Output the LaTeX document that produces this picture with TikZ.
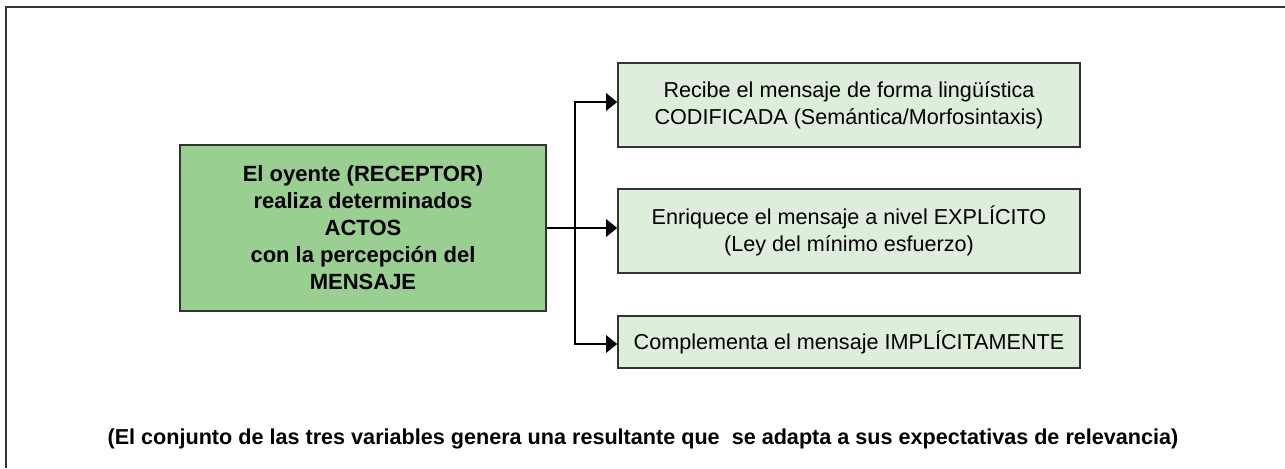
\documentclass[tikz,border=0pt]{standalone}
\usepackage{fontspec}
\setmainfont{Liberation Sans}
\usetikzlibrary{arrows.meta}
\definecolor{actgreen}{RGB}{153,207,145}
\definecolor{palegreen}{RGB}{221,238,218}
\definecolor{framegray}{RGB}{50,50,50}
\tikzset{actbox/.style={draw=framegray, fill=actgreen, line width=0.8pt, align=center, inner sep=0pt,
           minimum width=183pt, minimum height=83pt, font=\bfseries\fontsize{11}{13.5}\selectfont},
         varbox/.style={draw=framegray, fill=palegreen, line width=0.8pt, align=center, inner sep=0pt,
           minimum width=231pt, minimum height=42pt, font=\fontsize{10.8}{13.5}\selectfont},
         flow/.style={black, line width=1.4pt},
         tip/.style={-{Triangle[length=5.5pt,width=8.5pt]}}}

\begin{document}
\begin{tikzpicture}[x=0.5pt,y=-0.5pt]
   \useasboundingbox (0,0) rectangle (1285,468);
   % outer frame, only top and left edges are visible
   \draw[framegray, line width=1pt] (6,468) -- (6,7) -- (1285,7);
   % receptor
   \node[actbox] (oyente) at (363,228) {El oyente (RECEPTOR)\\ realiza determinados\\ ACTOS\\ con la percepción del\\ MENSAJE};
   % the three variables
   \node[varbox] (codif) at (849,105) {Recibe el mensaje de forma lingüística\\ CODIFICADA (Semántica/Morfosintaxis)};
   \node[varbox] (explic) at (849,231) {Enriquece el mensaje a nivel EXPLÍCITO\\ (Ley del mínimo esfuerzo)};
   \node[varbox, minimum height=26pt] (implic) at (849,342) {Complementa el mensaje IMPLÍCITAMENTE};
   \coordinate (split) at (575,228);
   \draw[flow] (oyente.east) -- (split);
   \draw[flow, tip] (split) |- ([yshift=1.5pt]codif.west);
   \draw[flow, tip] (split) |- ([yshift=1.5pt]explic.west);
   \draw[flow, tip] (split) |- ([yshift=-1pt]implic.west);
   \node[font=\bfseries\fontsize{10.8}{13}\selectfont] (resultante) at (643,439)
     {(El conjunto de las tres variables genera una resultante que \ se adapta a sus expectativas de relevancia)};
\end{tikzpicture}
\end{document}
